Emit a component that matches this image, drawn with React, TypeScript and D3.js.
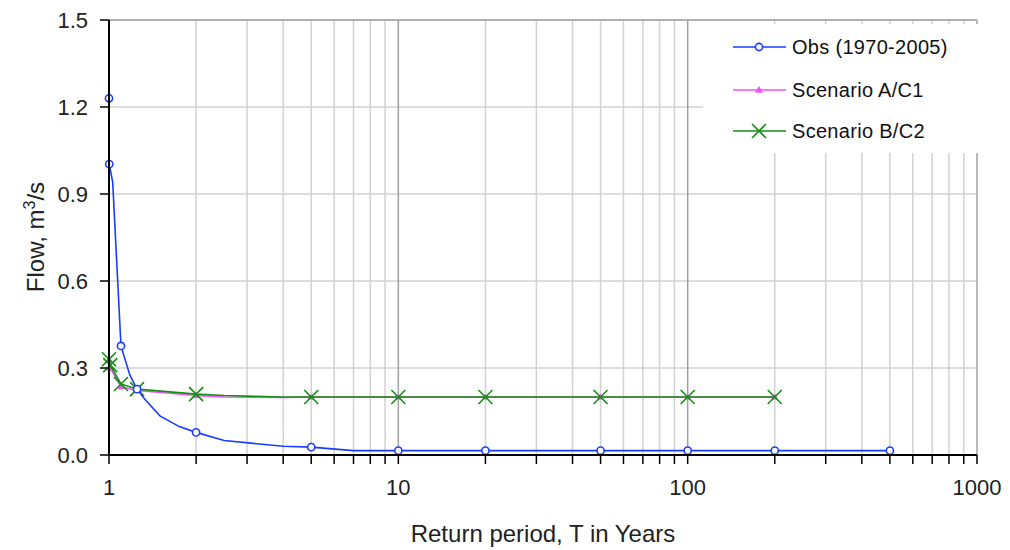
import * as d3 from "d3";

// return periods (years) and flows (m3/s)
const obsT = [1, 1.002, 1.03, 1.1, 1.18, 1.25, 1.33, 1.5, 1.75, 2, 2.5, 4, 5, 7, 10, 20, 50, 100, 200, 500];
const obsFlow = [1.23, 1.003, 0.94, 0.376, 0.276, 0.227, 0.192, 0.135, 0.098, 0.078, 0.05, 0.03, 0.027, 0.015, 0.015, 0.015, 0.015, 0.015, 0.015, 0.015];
const obsMarkerT = [1, 1.002, 1.1, 1.25, 2, 5, 10, 20, 50, 100, 200, 500];

const scenT = [1, 1.01, 1.1, 1.25, 2, 2.5, 4, 5, 10, 20, 50, 100, 200];
const scenAFlow = [0.33, 0.3, 0.235, 0.222, 0.205, 0.2, 0.198, 0.2, 0.2, 0.2, 0.2, 0.2, 0.2];
const scenBFlow = [0.33, 0.31, 0.245, 0.227, 0.21, 0.205, 0.2, 0.2, 0.2, 0.2, 0.2, 0.2, 0.2];
const scenMarkerT = [1, 1.01, 1.1, 1.25, 2, 5, 10, 20, 50, 100, 200];

const yTicks = [0, 0.3, 0.6, 0.9, 1.2, 1.5];
const xMajor = [1, 10, 100, 1000];

const legendItems = ["Obs (1970-2005)", "Scenario A/C1", "Scenario B/C2"];

const BLUE = "#1a3cff";
const PINK = "#f050f0";
const GREEN = "#129012";
const FONT = "'Liberation Sans', Arial, sans-serif";

export default function App() {
  const width = 1010;
  const height = 550;
  const margin = { top: 20, right: 33, bottom: 95, left: 109 };
  const innerW = width - margin.left - margin.right;
  const innerH = height - margin.top - margin.bottom;

  const x = d3.scaleLog().domain([1, 1000]).range([margin.left, margin.left + innerW]);
  const y = d3.scaleLinear().domain([0, 1.5]).range([margin.top + innerH, margin.top]);

  const minor: number[] = [];
  [1, 10, 100].forEach((dec) => {
    for (let k = 2; k <= 9; k++) minor.push(dec * k);
  });

  const line = d3
    .line<[number, number]>()
    .x((d) => x(d[0]))
    .y((d) => y(d[1]));

  const obsPts = obsT.map((t, i) => [t, obsFlow[i]] as [number, number]);
  const aPts = scenT.map((t, i) => [t, scenAFlow[i]] as [number, number]);
  const bPts = scenT.map((t, i) => [t, scenBFlow[i]] as [number, number]);

  const x0 = margin.left;
  const x1 = margin.left + innerW;
  const y0 = margin.top + innerH;
  const y1 = margin.top;

  const cross = (cx: number, cy: number, s: number, key: string, color: string) => (
    <path key={key} d={`M${cx - s},${cy - s}L${cx + s},${cy + s}M${cx - s},${cy + s}L${cx + s},${cy - s}`} stroke={color} strokeWidth={1.6} fill="none" />
  );
  const tri = (cx: number, cy: number, s: number, key: string) => (
    <path key={key} d={`M${cx},${cy - s}L${cx + s},${cy + s * 0.7}L${cx - s},${cy + s * 0.7}Z`} fill={PINK} />
  );
  const circ = (cx: number, cy: number, key: string) => (
    <circle key={key} cx={cx} cy={cy} r={3.6} fill="white" stroke={BLUE} strokeWidth={1.6} />
  );

  const legY = [47, 90, 131];

  return (
    <svg width={width} height={height} style={{ position: "absolute", left: 0, top: 0, background: "white" }} fontFamily={FONT}>
      {/* grid */}
      {yTicks.slice(1).map((t) => (
        <line key={"hy" + t} x1={x0} x2={x1} y1={y(t)} y2={y(t)} stroke="#d2d2d2" strokeWidth={1.5} />
      ))}
      {minor.map((t) => (
        <line key={"vx" + t} x1={x(t)} x2={x(t)} y1={y1} y2={y0} stroke="#d2d2d2" strokeWidth={1.5} />
      ))}
      {xMajor.slice(1).map((t) => (
        <line key={"mx" + t} x1={x(t)} x2={x(t)} y1={y1} y2={y0} stroke="#a0a0a0" strokeWidth={1.5} />
      ))}
      <line x1={x0} x2={x1} y1={y1} y2={y1} stroke="#a0a0a0" strokeWidth={1.5} />

      {/* legend box */}
      <rect x={703} y={24} width={277} height={129} fill="white" />

      {/* series */}
      <path d={line(aPts) || ""} fill="none" stroke={PINK} strokeWidth={1.5} />
      {aPts.filter((p) => scenMarkerT.includes(p[0])).map((p, i) => tri(x(p[0]), y(p[1]), 3.5, "a" + i))}
      <path d={line(bPts) || ""} fill="none" stroke={GREEN} strokeWidth={1.6} />
      {bPts.filter((p) => scenMarkerT.includes(p[0])).map((p, i) => cross(x(p[0]), y(p[1]), 7, "b" + i, GREEN))}
      <path d={line(obsPts) || ""} fill="none" stroke={BLUE} strokeWidth={1.6} />
      {obsPts.filter((p) => obsMarkerT.includes(p[0])).map((p, i) => circ(x(p[0]), y(p[1]), "o" + i))}

      {/* axes */}
      <line x1={x0} x2={x0} y1={y1} y2={y0 + 1} stroke="black" strokeWidth={2} />
      <line x1={x0} x2={x1} y1={y0} y2={y0} stroke="black" strokeWidth={2} />
      {yTicks.map((t) => (
        <g key={"yt" + t}>
          <line x1={x0 - 9} x2={x0} y1={y(t)} y2={y(t)} stroke="black" strokeWidth={1.5} />
          <text x={88} y={y(t)} dy="0.36em" textAnchor="end" fontSize={22} fill="#222">
            {d3.format(".1f")(t)}
          </text>
        </g>
      ))}
      {[...xMajor, ...minor].map((t) => (
        <line key={"xt" + t} x1={x(t)} x2={x(t)} y1={y0} y2={y0 + 9} stroke="black" strokeWidth={1.5} />
      ))}
      {xMajor.map((t) => (
        <text key={"xl" + t} x={x(t)} y={495} textAnchor="middle" fontSize={22} fill="#222">
          {t}
        </text>
      ))}

      {/* titles */}
      <text x={(x0 + x1) / 2} y={542} textAnchor="middle" fontSize={24} fill="#222">
        Return period, T in Years
      </text>
      <text transform={`translate(44,237) rotate(-90)`} textAnchor="middle" fontSize={24} fill="#222">
        Flow, m<tspan dy={-9} fontSize={16}>3</tspan>
        <tspan dy={9}>/s</tspan>
      </text>

      {/* legend */}
      {legendItems.map((label, i) => {
        const ly = legY[i];
        const color = [BLUE, PINK, GREEN][i];
        return (
          <g key={label}>
            <line x1={733} x2={786} y1={ly} y2={ly} stroke={color} strokeWidth={1.6} />
            {i === 0 && circ(759, ly, "lc")}
            {i === 1 && tri(759, ly, 4, "lt")}
            {i === 2 && cross(759, ly, 7, "lx", GREEN)}
            <text x={792} y={ly} dy="0.36em" fontSize={20} fill="#111" letterSpacing={0.3}>
              {label}
            </text>
          </g>
        );
      })}
    </svg>
  );
}
